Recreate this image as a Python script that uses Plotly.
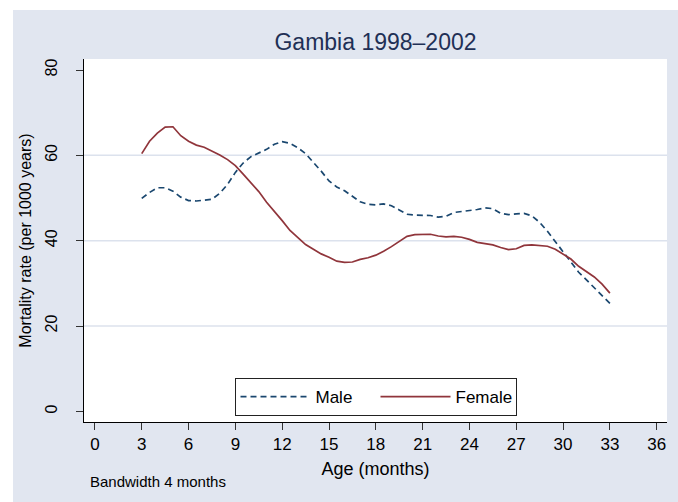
import plotly.graph_objects as go

# ---- data ----
age = [3, 3.5, 4, 4.5, 5, 5.5, 6, 6.5, 7, 7.5, 8, 8.5, 9, 9.5, 10, 10.5, 11, 11.5, 12, 12.5,
       13, 13.5, 14, 14.5, 15, 15.5, 16, 16.5, 17, 17.5, 18, 18.5, 19, 19.5, 20, 20.5, 21, 21.5,
       22, 22.5, 23, 23.5, 24, 24.5, 25, 25.5, 26, 26.5, 27, 27.5, 28, 28.5, 29, 29.5, 30, 30.5,
       31, 31.5, 32, 32.5, 33]

male = [49.9, 51.3, 52.4, 52.4, 51.6, 50.2, 49.4, 49.3, 49.5, 49.7, 51.1, 53.2, 56.0, 58.2,
        59.7, 60.5, 61.4, 62.6, 63.2, 62.8, 61.8, 60.4, 58.4, 56.3, 54.0, 52.6, 51.7, 50.5,
        49.1, 48.5, 48.4, 48.6, 48.2, 47.2, 46.2, 46.0, 46.0, 45.9, 45.5, 45.7, 46.6, 46.8,
        47.1, 47.3, 47.7, 47.5, 46.4, 46.1, 46.3, 46.4, 45.8, 44.3, 42.2, 39.8, 37.3, 34.8,
        32.6, 30.8, 28.9, 27.0, 25.3]

female = [60.4, 63.3, 65.2, 66.6, 66.7, 64.6, 63.3, 62.4, 61.9, 61.0, 60.1, 59.0, 57.6, 55.6,
          53.5, 51.5, 49.0, 46.9, 44.7, 42.4, 40.7, 39.1, 38.0, 36.9, 36.1, 35.2, 34.9, 35.0,
          35.6, 36.0, 36.6, 37.5, 38.6, 39.8, 41.0, 41.4, 41.5, 41.5, 41.1, 40.9, 41.0, 40.8,
          40.3, 39.6, 39.3, 39.0, 38.4, 37.9, 38.1, 38.9, 39.0, 38.9, 38.7, 38.0, 36.8, 35.7,
          34.0, 32.8, 31.5, 29.8, 27.7]

x_ticks = list(range(0, 37, 3))
y_ticks = [0, 20, 40, 60, 80]
grid_y = [20, 40, 60]
x_range = [-0.7, 36.66]
y_range = [-2.5, 82.58]

GREY = "#e1e6f0"
GRID = "#dce2ed"
NAVY = "#1a476f"
MAROON = "#90353b"
FONT = "Liberation Sans, Arial, sans-serif"

# geometry (pixels)
W, H = 678, 502
ML, MR, MT, MB = 60, 11, 59, 80
PW = W - ML - MR            # paper width between margins
PH = H - MT - MB
AXIS_X = 84                 # pixel position of the y axis line
d0 = (AXIS_X - ML) / PW     # x-axis domain start


def px(xp):
    return (xp - ML) / PW


def py(yp):
    return (H - MB - yp) / PH


fig = go.Figure()
fig.add_trace(go.Scatter(x=age, y=male, mode="lines", name="Male",
                         line=dict(color=NAVY, width=1.7, dash="6px,4px")))
fig.add_trace(go.Scatter(x=age, y=female, mode="lines", name="Female",
                         line=dict(color=MAROON, width=1.7)))

shapes = []
for g in grid_y:
    shapes.append(dict(type="line", xref="paper", yref="y", x0=d0, x1=1, y0=g, y1=g,
                       line=dict(color=GRID, width=1.5), layer="below"))
# white outer border (left and top) of the image
shapes.append(dict(type="rect", xref="paper", yref="paper", x0=px(-50), x1=px(13), y0=py(600), y1=py(-50),
                   fillcolor="white", line=dict(width=0), layer="below"))
shapes.append(dict(type="rect", xref="paper", yref="paper", x0=px(-50), x1=px(720), y0=py(10), y1=py(-50),
                   fillcolor="white", line=dict(width=0), layer="below"))

mid_x = px((AXIS_X + W - MR) / 2)

fig.update_layout(
    width=W, height=H,
    margin=dict(l=ML, r=MR, t=MT, b=MB),
    paper_bgcolor=GREY, plot_bgcolor="white",
    font=dict(family=FONT, color="black", size=16),
    title=dict(text="Gambia 1998–2002", x=mid_x, xref="paper", xanchor="center",
               y=1 - 42 / H, yref="container", yanchor="middle",
               font=dict(size=23, color="#1f3056", family=FONT)),
    showlegend=True,
    legend=dict(orientation="h", x=mid_x, xanchor="center", y=py(416), yanchor="bottom",
                bgcolor="white", bordercolor="#222222", borderwidth=1,
                font=dict(size=17, family=FONT), itemwidth=70,
                entrywidth=55, traceorder="normal"),
    shapes=shapes,
    xaxis=dict(domain=[d0, 1], range=x_range, tickmode="array", tickvals=x_ticks,
               ticks="outside", ticklen=7, tickcolor="#333333", tickwidth=1,
               showline=True, linecolor="black", linewidth=1, mirror=False,
               showgrid=False, zeroline=False, tickfont=dict(size=17), automargin=False,
               title=dict(text="Age (months)", font=dict(size=18), standoff=8)),
    # labels + title axis, placed to the left of the plot
    yaxis=dict(anchor="free", position=0, range=y_range, tickmode="array", tickvals=y_ticks,
               tickangle=-90, ticks="", showline=False, showgrid=False, zeroline=False,
               tickfont=dict(size=16), automargin=False,
               title=dict(text="Mortality rate (per 1000 years)", font=dict(size=16), standoff=6)),
    # axis line + ticks at the plot edge
    yaxis2=dict(overlaying="y", anchor="x", side="left", range=y_range, tickmode="array",
                tickvals=y_ticks, ticks="outside", ticklen=7, tickcolor="#333333", tickwidth=1,
                showline=True, linecolor="black", linewidth=1, showticklabels=False,
                showgrid=False, zeroline=False, automargin=False),
    annotations=[dict(text="Bandwidth 4 months", xref="paper", yref="paper",
                      x=px(88), y=py(481), xanchor="left", yanchor="middle",
                      showarrow=False, font=dict(size=15, family=FONT))],
)

# an invisible trace so that yaxis2 is drawn
fig.add_trace(go.Scatter(x=[age[0]], y=[male[0]], yaxis="y2", mode="lines",
                         showlegend=False, hoverinfo="skip", line=dict(width=0), opacity=0))

fig.write_html("out.html", post_script="document.body.style.margin='0';",
               config={"displayModeBar": False})
